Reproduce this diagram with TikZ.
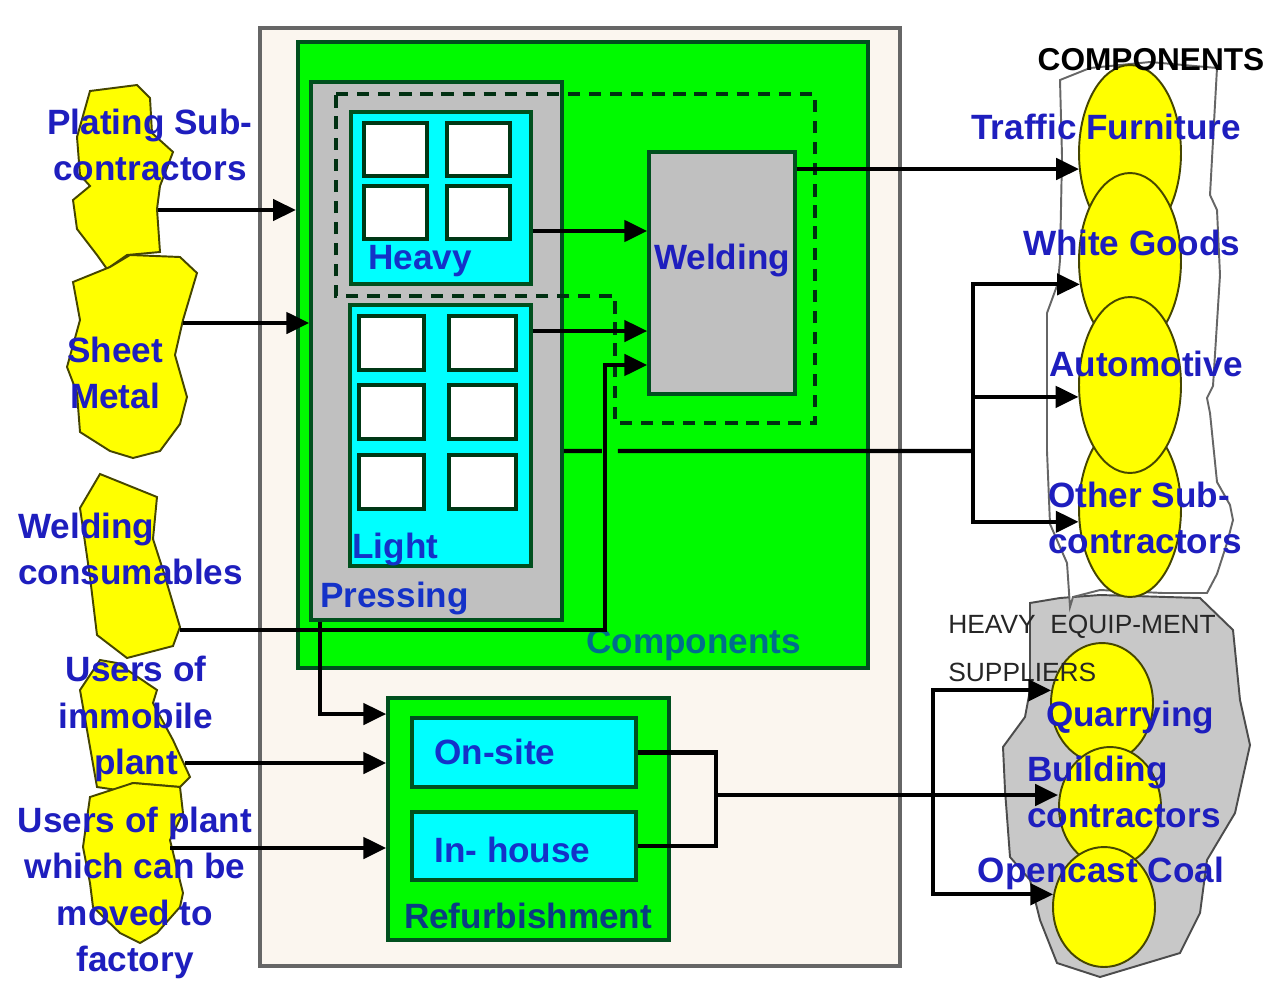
\documentclass[tikz,border=0pt]{standalone}
\usepackage{fontspec}
\setmainfont{Liberation Sans}
\usepackage{tikz}
\usetikzlibrary{arrows.meta,fit,shapes.geometric}
\definecolor{paper}{RGB}{251,246,239}
\definecolor{boxgreen}{RGB}{0,250,0}
\definecolor{edgegreen}{RGB}{0,80,30}
\definecolor{boxgray}{RGB}{192,192,192}
\definecolor{boxcyan}{RGB}{0,255,255}
\definecolor{blobyellow}{RGB}{255,255,0}
\definecolor{blobedge}{RGB}{70,70,0}
\definecolor{textblue}{RGB}{30,30,190}
\definecolor{innerblue}{RGB}{20,50,200}
\definecolor{compteal}{RGB}{0,110,140}
\definecolor{refblue}{RGB}{10,60,130}
\definecolor{heavygray}{RGB}{200,200,200}

\begin{document}
\begin{tikzpicture}[x=0.02cm,y=-0.02cm,font=\bfseries\fontsize{20}{26.5}\selectfont,
  box/.style={draw=edgegreen,line width=2pt,inner sep=0pt},
  greenbox/.style={box,fill=boxgreen},
  graybox/.style={box,fill=boxgray},
  cyanbox/.style={box,fill=boxcyan},
  slot/.style={draw=edgegreen!70!black,line width=1.8pt,fill=white},
  dashedge/.style={draw=edgegreen!60!black,line width=2pt,dash pattern=on 7pt off 5pt},
  blob/.style={draw=blobedge,line width=1.1pt,fill=blobyellow},
  yell/.style={ellipse,draw=blobedge,line width=1.1pt,fill=blobyellow,inner sep=0pt},
  lbl/.style={text=textblue,inner sep=0pt,align=center},
  inlbl/.style={text=innerblue,inner sep=0pt,anchor=west},
  caps/.style={text=black!85,inner sep=0pt,anchor=west,font=\fontsize{15}{20}\selectfont},
  arr/.style={line width=2.4pt,-{Triangle[length=13pt,width=12pt]}},
  conn/.style={line width=2.4pt}]
\fill[white] (0,0) rectangle (1275,981);
\useasboundingbox (0,0) rectangle (1275,981);

\node[draw=black!60,line width=2.4pt,fill=paper,inner sep=0pt,fit={(260,28) (900,966)}] (outer) {};
\node[greenbox,line width=2.4pt,fit={(298,42) (868,668)}] (comp) {};
\node[graybox,fit={(311,82) (562,620)}] (press) {};
\node[cyanbox,fit={(351,112) (531,284)}] (heavy) {};
\node[cyanbox,fit={(350,305) (531,566)}] (light) {};
\foreach \sx in {364,447}
  \foreach \sy in {123,186}
    \draw[slot] (\sx,\sy) rectangle ++(63,53);
\foreach \sx/\sw in {359/65,449/67}
  \foreach \sy in {316,385,455}
    \draw[slot] (\sx,\sy) rectangle ++(\sw,54);
\node[graybox,fit={(649,152) (795,394)},text=textblue] (weld) {Welding};
\draw[dashedge] (336,94) -- (815,94) -- (815,423) -- (615,423) -- (615,296) -- (336,296) -- cycle;
\node[greenbox,fit={(388,698) (669,940)}] (refurb) {};
\node[cyanbox,fit={(412,718) (636,787)}] (onsite) {};
\node[cyanbox,fit={(412,812) (636,880)}] (inhouse) {};

\node[inlbl] (heavylbl) at (368,261) {Heavy};
\node[inlbl] (lightlbl) at (352,549) {Light};
\node[inlbl] (presslbl) at (320,598) {Pressing};
\node[inlbl,text=compteal] (complbl) at (586,645) {Components};
\node[inlbl] (onsitelbl) at (434,752) {On-site};
\node[inlbl] (inhouselbl) at (434,850) {In- house};
\node[lbl,text=refblue] (refurblbl) at (528,916) {Refurbishment};

\draw[blob] (90,91) -- (137,85) -- (150,98) -- (152,133) -- (173,152) -- (160,186) -- (157,209) -- (160,252)
  -- (127,255) -- (107,269) -- (97,255) -- (77,229) -- (73,200) -- (90,186) -- (80,175) -- (77,137) -- cycle;
\draw[blob] (110,267) -- (130,255) -- (180,257) -- (197,273) -- (183,320) -- (175,355) -- (187,397) -- (180,424)
  -- (160,451) -- (133,458) -- (110,451) -- (80,432) -- (77,393) -- (67,367) -- (80,320) -- (73,282) -- cycle;
\draw[blob] (100,474) -- (157,497) -- (153,539) -- (163,570) -- (180,627) -- (173,646) -- (127,658) -- (97,635)
  -- (90,577) -- (80,508) -- cycle;
\draw[blob] (100,660) -- (117,663) -- (157,690) -- (153,703) -- (173,740) -- (190,777) -- (180,787) -- (133,783)
  -- (117,790) -- (97,787) -- (90,747) -- (80,690) -- cycle;
\draw[blob] (90,797) -- (133,783) -- (180,787) -- (183,813) -- (170,840) -- (183,893) -- (180,907) -- (157,933)
  -- (140,943) -- (120,933) -- (93,907) -- (90,883) -- (83,847) -- cycle;

\draw[draw=black!70,line width=1.1pt,fill=heavygray] (1030,603) -- (1060,598) -- (1100,595) -- (1200,598) -- (1233,630)
  -- (1240,700) -- (1250,745) -- (1235,813) -- (1207,860) -- (1200,913) -- (1180,953) -- (1100,977) -- (1057,963)
  -- (1040,920) -- (1030,880) -- (1010,857) -- (1005,790) -- (1003,747) -- (1025,717) -- (1030,690) -- cycle;
\draw[draw=black!60,line width=1.1pt,fill=white] (1060,80) -- (1062,156) -- (1060,260) -- (1058,283) -- (1047,313)
  -- (1047,451) -- (1050,524) -- (1067,563) -- (1070,607) -- (1073,597) -- (1100,590) -- (1163,593) -- (1207,593)
  -- (1217,574) -- (1227,543) -- (1233,520) -- (1230,505) -- (1217,482) -- (1210,413) -- (1207,398) -- (1213,386)
  -- (1220,275) -- (1217,210) -- (1210,195) -- (1217,68) -- (1150,62) -- (1090,68) -- cycle;
\node[yell,minimum width=2.04cm,minimum height=3.52cm] (other) at (1130,509) {};
\node[yell,minimum width=2.04cm,minimum height=3.52cm] (traffic) at (1130,153) {};
\node[yell,minimum width=2.04cm,minimum height=3.52cm] (white) at (1130,261) {};
\node[yell,minimum width=2.04cm,minimum height=3.52cm] (auto) at (1130,385) {};
\node[yell,minimum width=2.04cm,minimum height=2.4cm] (quarry) at (1102,703) {};
\node[yell,minimum width=2.04cm,minimum height=2.4cm] (build) at (1110,807) {};
\node[yell,minimum width=2.04cm,minimum height=2.4cm] (coal) at (1104,907) {};

\node[lbl] (platinglbl) at (150,145) {Plating Sub-\\contractors};
\node[lbl] (sheetlbl) at (115,373) {Sheet\\Metal};
\node[lbl,anchor=west,align=left] (weldclbl) at (18,549) {Welding\\consumables};
\node[lbl] (immoblbl) at (136,719) {Users of\\immobile\\plant};
\node[lbl] (movlbl) at (135,893) {Users of plant\\which can be\\moved to\\factory};
\node[inner sep=0pt,font=\bfseries\fontsize{18}{22}\selectfont] (complist) at (1151,60) {COMPONENTS};
\node[lbl] (trafficlbl) at (1106,127) {Traffic Furniture};
\node[lbl] (whitelbl) at (1132,243) {White Goods};
\node[lbl] (autolbl) at (1146,364) {Automotive};
\node[lbl,anchor=west,align=left] (otherlbl) at (1048,518) {Other Sub-\\contractors};
\node[caps] (heavyeqlbl) at (948,627) {HEAVY~~EQUIP-MENT};
\node[caps] (supplbl) at (948,672) {SUPPLIERS};
\node[lbl] (quarrylbl) at (1130,717) {Quarrying};
\node[lbl,anchor=west,align=left] (buildlbl) at (1027,792) {Building\\contractors};
\node[lbl] (coallbl) at (1101,873) {Opencast Coal};

\coordinate (platingout) at (158,210);
\coordinate (sheetout) at (183,323);
\coordinate (weldcout) at (180,630);
\coordinate (wturn) at (605,630);
\coordinate (immobout) at (185,763);
\coordinate (movout) at (170,848);
\coordinate (heavyout) at ([yshift=-0.66cm]heavy.east);
\coordinate (lightout) at ([yshift=2.09cm]light.east);
\coordinate (weldout) at ([yshift=2.08cm]weld.east);
\coordinate (pressout) at ([yshift=-2cm]press.east);
\coordinate (pressdown) at ([xshift=0.22cm]press.south west);
\coordinate (split) at (973,451);
\coordinate (refout) at (716,795);
\coordinate (hsplit) at (933,795);

\draw[arr] (platingout) -- (platingout -| comp.west);
\draw[arr] (sheetout) -- (sheetout -| press.west);
\draw[arr] (heavyout) -- (heavyout -| weld.west);
\draw[arr] (lightout) -- (lightout -| weld.west);
\draw[arr] (weldcout) -- (wturn) |- ([yshift=-1.84cm]weld.west);
\draw[arr] (weldout) -- (weldout -| traffic.199);
\draw[conn] (pressout) -- ++(38,0) ++(16,0) -- (split);
\draw[arr] (split) |- (white.205);
\draw[arr] (split) |- (auto.193);
\draw[arr] (split) |- (other.194);
\draw[arr] (pressdown) |- ([yshift=2.1cm]refurb.west);
\draw[arr] (immobout) -- (immobout -| refurb.west);
\draw[arr] (movout) -- (movout -| refurb.west);
\draw[conn] (onsite.east) -| (refout);
\draw[conn] (inhouse.east) -| (refout);
\draw[arr] (refout) -- (refout -| build.west);
\draw[arr] (hsplit) |- (quarry.166);
\draw[arr] (hsplit) |- (coal.166);
\end{tikzpicture}
\end{document}
